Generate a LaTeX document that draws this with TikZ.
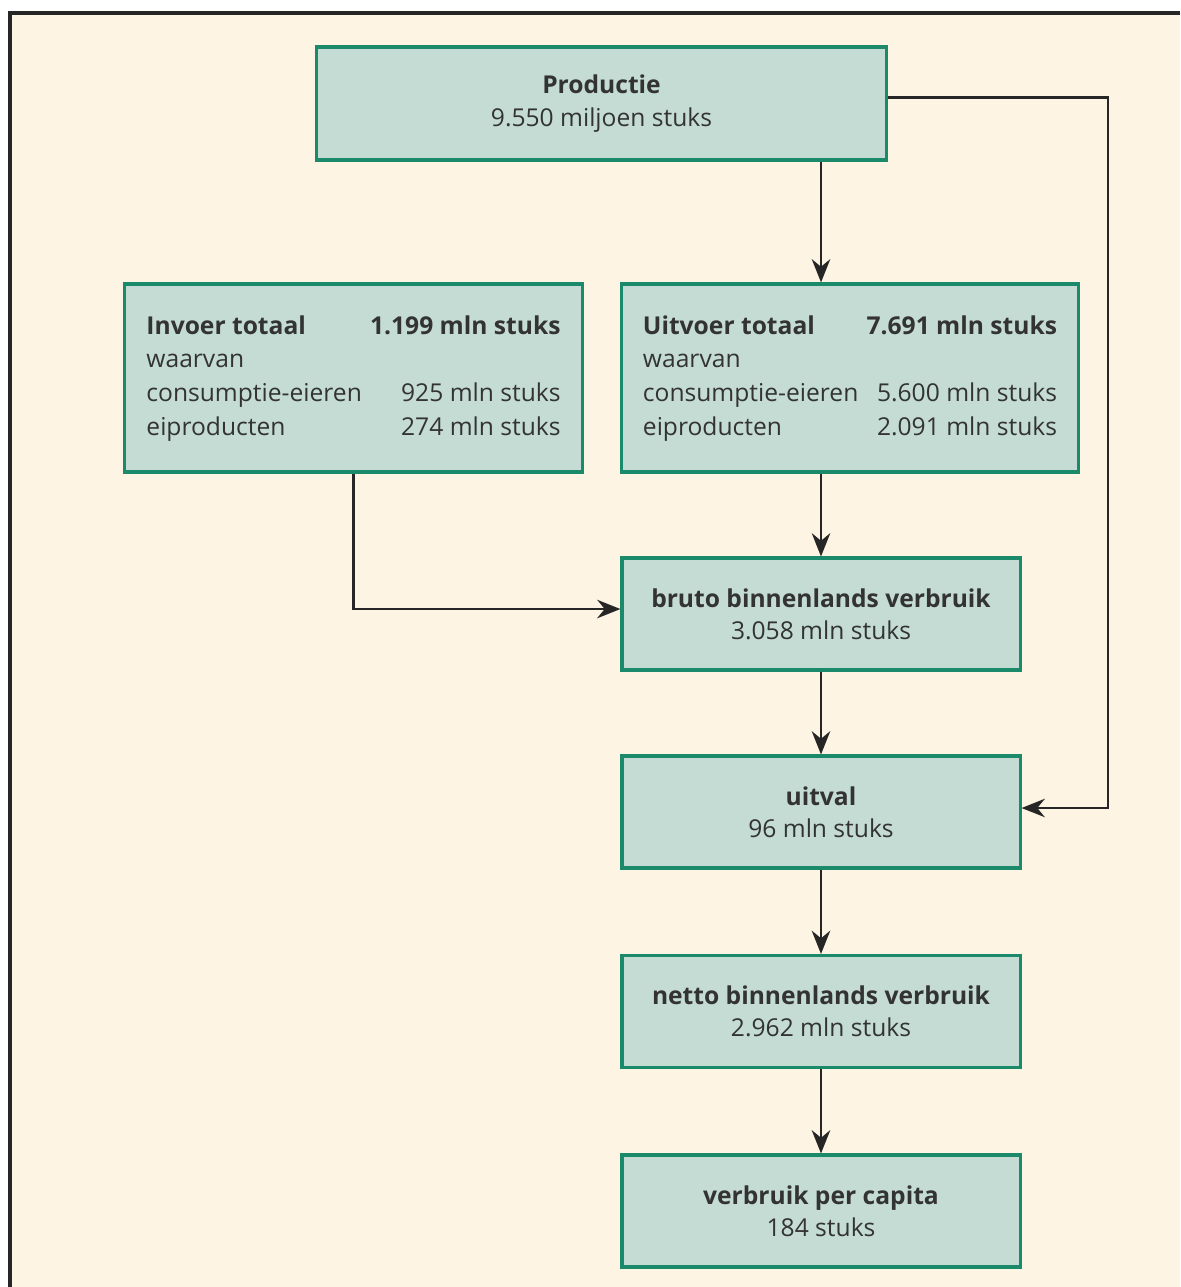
\documentclass[tikz,border=0pt]{standalone}
\usepackage{fontspec}
\setmainfont{Open Sans}
\usetikzlibrary{arrows.meta}
\definecolor{achtergrond}{HTML}{FDF4E3}
\definecolor{vakvulling}{HTML}{C4DCD3}
\definecolor{vakrand}{HTML}{1B8A6B}
\definecolor{tekst}{HTML}{333333}
\begin{document}
\begin{tikzpicture}[x=0.025cm, y=-0.025cm,
  vak/.style={draw=vakrand, fill=vakvulling, line width=2.2pt, text=tekst,
    align=center, inner sep=0pt, font=\fontsize{17.5}{23}\selectfont},
  klein/.style={vak, minimum width=9.95cm, minimum height=2.8cm},
  groot/.style={vak, minimum width=11.425cm, minimum height=4.7cm,
    font=\fontsize{17.5}{24}\selectfont},
  pijl/.style={-{Stealth[length=0.58cm,width=0.46cm]}, line width=2pt, draw=black!85}]
  \useasboundingbox (0,0) rectangle (1180,1287);

  % Achtergrond en kader
  \fill[achtergrond] (10,13) rectangle (1180,1287);
  \draw[line width=2.2pt, black!85] (10,1287) -- (10,13) -- (1180,13);

  % Vakken
  \node[vak, minimum width=14.225cm, minimum height=2.825cm] (prod) at (601.5,103.5)
    {\textbf{Productie}\\9.550 miljoen stuks};
  \node[groot] (invoer) at (353.5,378)
    {\begin{tabular*}{10.35cm}{@{}l@{\extracolsep{\fill}}r@{}}
      \textbf{Invoer totaal} & \textbf{1.199 mln stuks}\\
      waarvan & \\
      consumptie-eieren & 925 mln stuks\\
      eiproducten & 274 mln stuks
    \end{tabular*}};
  \node[groot] (uitvoer) at (850,378)
    {\begin{tabular*}{10.35cm}{@{}l@{\extracolsep{\fill}}r@{}}
      \textbf{Uitvoer totaal} & \textbf{7.691 mln stuks}\\
      waarvan & \\
      consumptie-eieren & 5.600 mln stuks\\
      eiproducten & 2.091 mln stuks
    \end{tabular*}};
  \node[klein] (bruto) at (821,614) {\textbf{bruto binnenlands verbruik}\\3.058 mln stuks};
  \node[klein] (uitval) at (821,812) {\textbf{uitval}\\96 mln stuks};
  \node[klein] (netto) at (821,1011.5) {\textbf{netto binnenlands verbruik}\\2.962 mln stuks};
  \node[klein] (capita) at (821,1211) {\textbf{verbruik per capita}\\184 stuks};
  \coordinate (bocht) at (1108,808);

  % Pijlen
  \draw[pijl] (prod.south -| bruto.north) -- (uitvoer.north -| bruto.north);
  \draw[pijl] ([yshift=0.15cm]prod.east) -| (bocht) -- (bocht -| uitval.east);
  \draw[pijl] (uitvoer.south -| bruto.north) -- (bruto.north);
  \draw[pijl] (invoer.south) |- ([yshift=0.125cm]bruto.west);
  \draw[pijl] (bruto.south) -- (uitval.north);
  \draw[pijl] (uitval.south) -- (netto.north);
  \draw[pijl] (netto.south) -- (capita.north);
\end{tikzpicture}
\end{document}
